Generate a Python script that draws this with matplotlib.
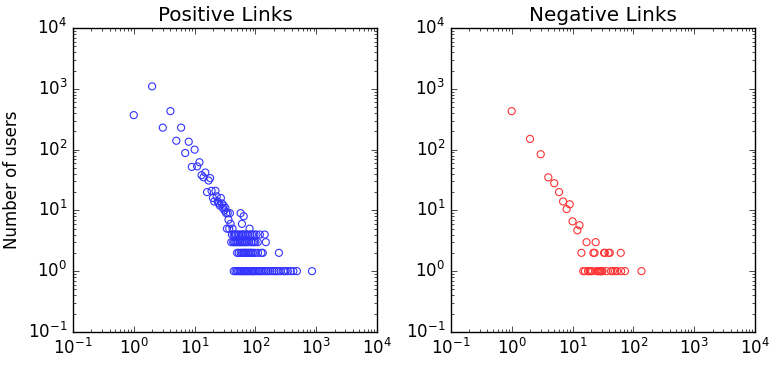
"""."""
import matplotlib
matplotlib.use("Agg")
import matplotlib.pyplot as plt  # type: ignore

plt.style.use("classic")

# Positive links: degree -> number of users
pos_k = [1, 2, 3, 4, 5, 6, 7, 8, 9, 10, 11, 12, 13, 14, 15, 16, 17, 18, 19, 20,
         21, 22, 23, 24, 25, 26, 27, 28, 29, 30, 31, 32, 33, 35, 36, 38, 39, 57, 64, 60]
pos_n = [370, 1100, 230, 430, 140, 230, 88, 135, 52, 100, 53, 62, 38, 35, 42, 20, 31, 34, 21, 16,
         14, 21, 17, 14, 13, 12, 16, 13, 11, 12, 10, 11, 9, 9, 7, 9, 6, 9, 8, 6]
# degrees sharing the small counts (5, 4, 3, 2, 1 users)
pos_k5 = [34, 37, 42, 80]
pos_k4 = [41, 44, 46, 48, 51, 54, 58, 61, 63, 67, 71, 76, 82, 88, 96, 104, 118, 142]
pos_k3 = [40, 43, 45, 47, 49, 52, 55, 56, 59, 62, 65, 68, 72, 78, 85, 90, 95, 100, 109, 148]
pos_k2 = [50, 53, 57, 60, 63, 66, 69, 71, 75, 79, 83, 86, 91, 98, 110, 125, 132, 243]
pos_k1 = [44, 47, 50, 52, 55, 58, 61, 64, 66, 70, 73, 76, 80, 85, 88, 92, 97, 103, 110,
          115, 122, 130, 140, 150, 160, 175, 190, 205, 220, 240, 260, 290, 310, 340,
          380, 420, 480, 850]

# Negative links
neg_k = [1, 2, 3, 4, 5, 6, 7, 8, 9, 10, 12, 13, 17, 24]
neg_n = [430, 150, 84, 35, 28, 20, 14, 10.5, 12.6, 6.6, 4.7, 5.7, 3, 3]
neg_k2 = [14, 22, 23, 33, 34, 39, 41, 62]
neg_k1 = [15, 16, 18, 19, 20, 21, 25, 26, 27, 28, 29, 30, 31, 36, 43, 46, 50, 54, 63, 73, 136]

pos_x = pos_k + pos_k5 + pos_k4 + pos_k3 + pos_k2 + pos_k1
pos_y = (pos_n + [5] * len(pos_k5) + [4] * len(pos_k4) + [3] * len(pos_k3)
         + [2] * len(pos_k2) + [1] * len(pos_k1))
neg_x = neg_k + neg_k2 + neg_k1
neg_y = neg_n + [2] * len(neg_k2) + [1] * len(neg_k1)

fig = plt.figure(figsize=(7.76, 3.70), dpi=100, facecolor="white")
ax1 = fig.add_axes([0.094, 0.103, 0.392, 0.821])
ax2 = fig.add_axes([0.581, 0.103, 0.392, 0.821])

for ax, xs, ys, col, title in [(ax1, pos_x, pos_y, "#3333ff", "Positive Links"),
                               (ax2, neg_x, neg_y, "#ff3333", "Negative Links")]:
    ax.scatter(xs, ys, s=26, facecolors="none", edgecolors=col, linewidths=0.8)
    ax.set_xscale("log")
    ax.set_yscale("log")
    ax.set_xlim(0.1, 1e4)
    ax.set_ylim(0.1, 1e4)
    ax.set_title(title, fontsize=14.4)
    ax.tick_params(labelsize=12)

ax1.set_ylabel("Number of users", fontsize=12)

fig.savefig("out.png", dpi=100, facecolor="white")
